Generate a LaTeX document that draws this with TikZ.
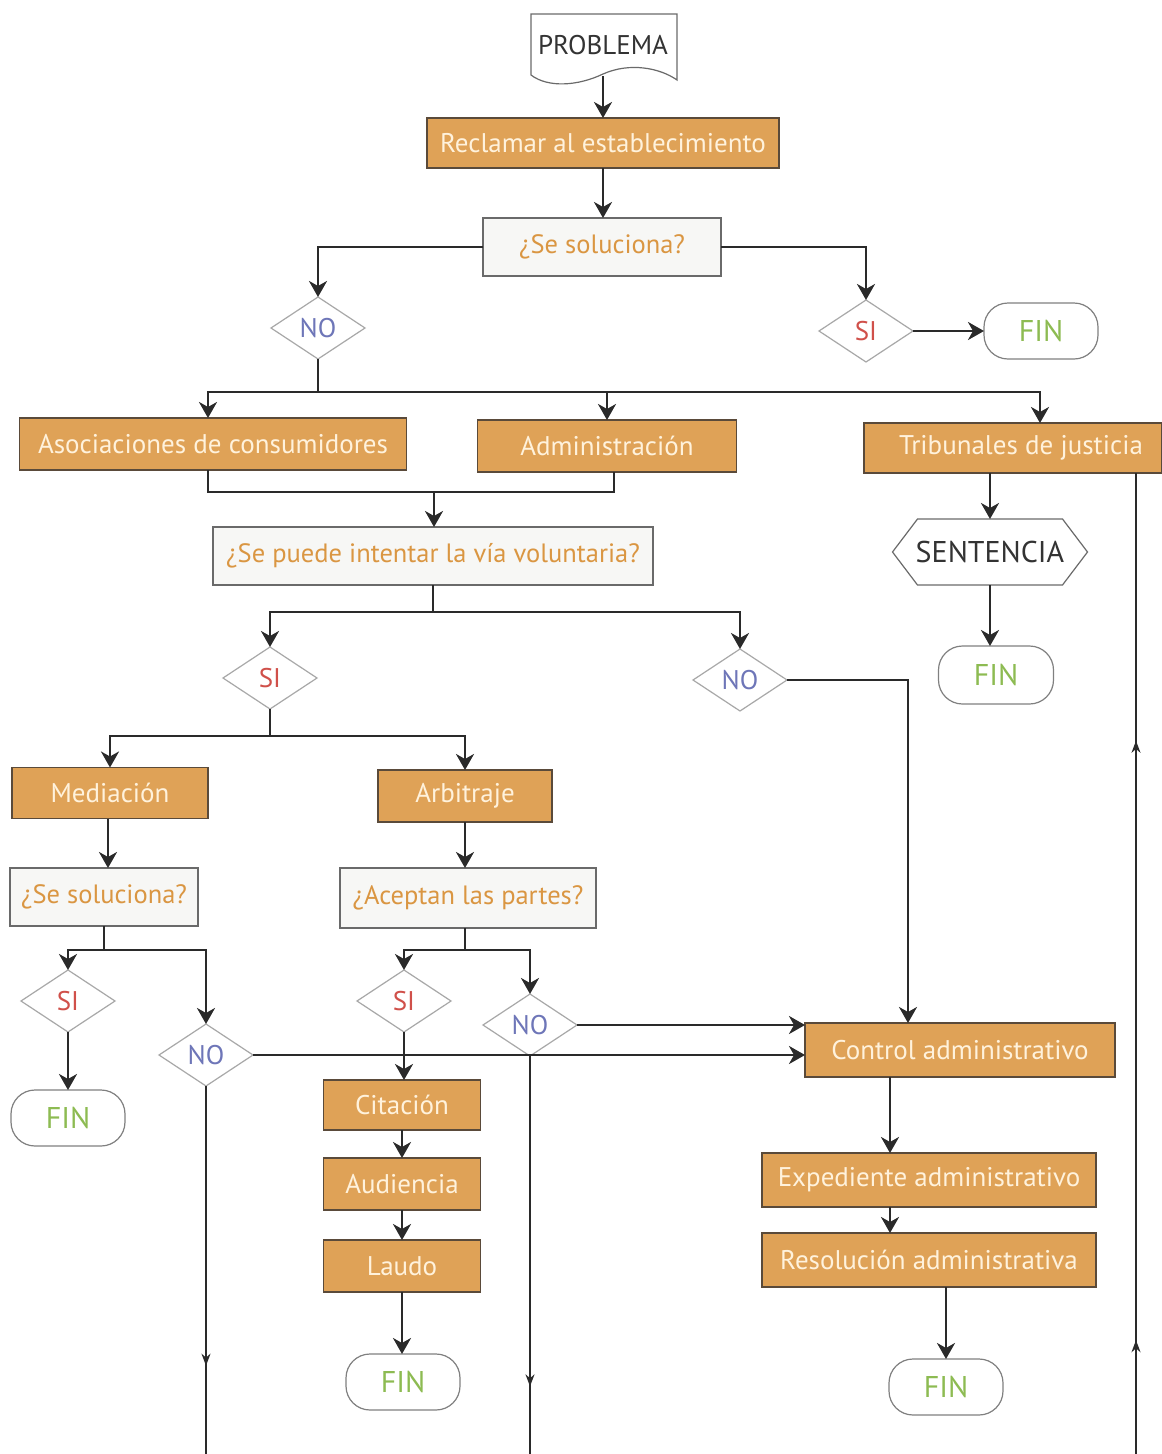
\documentclass[tikz,border=0pt]{standalone}
\usepackage{fontspec}
\setmainfont{PT Sans}
\usetikzlibrary{shapes.geometric,arrows.meta,decorations.markings,calc}
\definecolor{ofill}{HTML}{DFA257}
\definecolor{oborder}{HTML}{5A4A3A}
\definecolor{otext}{HTML}{FFF2DC}
\definecolor{qfill}{HTML}{F7F7F5}
\definecolor{qborder}{HTML}{6A6A6A}
\definecolor{qtext}{HTML}{DA9642}
\definecolor{dborder}{HTML}{A8A8A8}
\definecolor{sitext}{HTML}{D0504A}
\definecolor{notext}{HTML}{6E76B8}
\definecolor{fintext}{HTML}{8DBB52}
\definecolor{lcol}{HTML}{2A2A2A}
\begin{document}
\begin{tikzpicture}[x=1pt,y=-1pt,
 every node/.style={inner sep=0pt, outer sep=0pt},
 proc/.style={rectangle, draw=oborder, line width=1.5pt, fill=ofill, text=otext, font=\fontsize{27}{30}\selectfont},
 ques/.style={rectangle, draw=qborder, line width=1.3pt, fill=qfill, text=qtext, font=\fontsize{26.5}{30}\selectfont},
 dia/.style={diamond, draw=dborder, line width=1.2pt, fill=white, minimum width=94pt, minimum height=62pt, font=\fontsize{27}{30}\selectfont},
 sitxt/.style={text=sitext},
 notxt/.style={text=notext},
 fin/.style={rectangle, rounded corners=24pt, draw=gray, line width=1.2pt, fill=white, text=fintext, minimum width=114pt, minimum height=56pt, font=\fontsize{30}{32}\selectfont},
 arr/.style={line width=2.6pt, draw=lcol, -{Stealth[length=16pt,width=18pt,inset=5pt]}},
 ln/.style={line width=2.6pt, draw=lcol},
 thinln/.style={line width=1.6pt, draw=lcol},
 midarr/.style={postaction={decorate}, decoration={markings, mark=at position #1 with {\arrow{Stealth[length=12pt,width=9pt]}}}},
 twoarr/.style 2 args={postaction={decorate}, decoration={markings, mark=at position #1 with {\arrow{Stealth[length=12pt,width=9pt]}}, mark=at position #2 with {\arrow{Stealth[length=12pt,width=9pt]}}}}]
\useasboundingbox (0,0) rectangle (1162,1454);
\fill[white] (0,0) rectangle (1162,1454);
% PROBLEMA document shape
\draw[qborder, line width=1.2pt, fill=white] (531,14) -- (677,14) -- (677,80)
  .. controls (660,68) and (630,62) .. (603,74)
  .. controls (578,86) and (548,88) .. (531,75) -- cycle;
\node (prob) [minimum width=146pt, minimum height=62pt, font=\fontsize{27}{30}\selectfont, text=black!80] at (603,45) {PROBLEMA};
\node (recl) [proc, minimum width=352pt, minimum height=50pt] at (603,143) {Reclamar al establecimiento};
\node (q1) [ques, minimum width=238pt, minimum height=58pt] at (602,247) {¿Se soluciona?};
\node (no1) [dia, notxt] at (318,328) {NO};
\node (si1) [dia, sitxt] at (866,331) {SI};
\node (fin1) [fin] at (1041,331) {FIN};
\node (asoc) [proc, minimum width=387pt, minimum height=52pt] at (213,444) {Asociaciones de consumidores};
\node (admin) [proc, minimum width=259pt, minimum height=52pt] at (607,446) {Administración};
\node (trib) [proc, minimum width=298pt, minimum height=50pt] at (1013,448) {\hspace*{16pt}Tribunales de justicia};
\node (q2) [ques, minimum width=440pt, minimum height=58pt] at (433,556) {¿Se puede intentar la vía voluntaria?};
\node (si2) [dia, sitxt] at (270,678) {SI};
\node (no2) [dia, notxt] at (740,680) {NO};
\node (med) [proc, minimum width=196pt, minimum height=51pt] at (110,793) {Mediación};
\node (arb) [proc, minimum width=174pt, minimum height=52pt] at (465,796) {Arbitraje};
\node (q3) [ques, minimum width=188pt, minimum height=58pt] at (104,897) {¿Se soluciona?};
\node (q4) [ques, minimum width=256pt, minimum height=60pt] at (468,898) {¿Aceptan las partes?};
\node (si3) [dia, sitxt] at (68,1001) {SI};
\node (no3) [dia, notxt] at (206,1055) {NO};
\node (si4) [dia, sitxt] at (404,1001) {SI};
\node (no4) [dia, notxt] at (530,1025) {NO};
\node (fin3) [fin] at (68,1118) {FIN};
\node (cit) [proc, minimum width=157pt, minimum height=50pt] at (402,1105) {Citación};
\node (aud) [proc, minimum width=157pt, minimum height=52pt] at (402,1184) {Audiencia};
\node (lau) [proc, minimum width=157pt, minimum height=52pt] at (402,1266) {Laudo};
\node (fin4) [fin] at (403,1382) {FIN};
\node (ctrl) [proc, minimum width=310pt, minimum height=54pt] at (960,1050) {Control administrativo};
\node (exp) [proc, minimum width=334pt, minimum height=54pt] at (929,1180) {Expediente administrativo};
\node (res) [proc, minimum width=334pt, minimum height=54pt] at (929,1260) {Resolución administrativa};
\node (fin5) [fin] at (946,1387) {FIN};
\node (sent) [minimum width=195pt, minimum height=66pt, font=\fontsize{30}{32}\selectfont, text=black!80] at (990,552) {SENTENCIA};
\draw[qborder, line width=1.2pt] (sent.west) -- ($(sent.north west)+(25,0)$) -- ($(sent.north east)+(-25,0)$) -- (sent.east) -- ($(sent.south east)+(-25,0)$) -- ($(sent.south west)+(25,0)$) -- cycle;
\node (fin2) [fin, minimum width=115pt, minimum height=58pt] at (996,675) {FIN};
% connectors
\draw[arr] (prob.south) -- (prob.south |- recl.north);
\draw[arr] (recl.south) -- (recl.south |- q1.north);
\draw[arr] (q1.west) -| (no1.north);
\draw[arr] (q1.east) -| (si1.north);
\draw[arr] (si1.east) -- (fin1.west);
\coordinate (j1) at (318,392);
\draw[ln] (no1.south) -- (j1);
\draw[arr] (j1) -| ([xshift=-5pt]asoc.north);
\draw[arr] (j1) -| ([xshift=27pt]trib.north);
\draw[arr] (admin.north |- j1) -- (admin.north);
\coordinate (j2) at (434,492);
\draw[ln] ([xshift=-5pt]asoc.south) |- ([xshift=7pt]admin.south |- j2) -- ([xshift=7pt]admin.south);
\draw[arr] (j2) -- (j2 |- q2.north);
\coordinate (j3) at (433,612);
\draw[ln] (q2.south) -- (j3);
\draw[arr] (j3) -| (si2.north);
\draw[arr] (j3) -| (no2.north);
\draw[arr] (no2.east) -| ([xshift=-52pt]ctrl.north);
\coordinate (j4) at (270,736);
\draw[ln] (si2.south) -- (j4);
\draw[arr] (j4) -| (med.north);
\draw[arr] (j4) -| (arb.north);
\draw[arr] ([xshift=-2pt]med.south) -- ([xshift=-2pt]med.south |- q3.north);
\draw[arr] (arb.south) -- (arb.south |- q4.north);
\coordinate (j5) at (104,950);
\draw[ln] (q3.south) -- (j5);
\draw[arr] (j5) -| (si3.north);
\draw[arr] (j5) -| (no3.north);
\coordinate (j6) at (465,950);
\draw[ln] (q4.south -| j6) -- (j6);
\draw[arr] (j6) -| (si4.north);
\draw[arr] (j6) -| (no4.north);
\draw[arr] (si3.south) -- (si3.south |- fin3.north);
\draw[arr] (no3.east) -- (no3.east -| ctrl.west);
\draw[arr] (no4.east) -- (no4.east -| ctrl.west);
\draw[arr] (si4.south) -- (si4.south |- cit.north);
\draw[arr] (cit.south) -- (aud.north);
\draw[arr] (aud.south) -- (lau.north);
\draw[arr] (lau.south) -- (lau.south |- fin4.north);
\coordinate (b1) at (206,1454);
\coordinate (b2) at (530,1454);
\coordinate (b3) at (1136,1454);
\draw[thinln, midarr=0.76] (no3.south) -- (b1);
\draw[thinln, midarr=0.83] (no4.south) -- (b2);
\draw[thinln, twoarr={0.116}{0.727}] (b3) -- (trib.south -| b3);
\draw[arr] ([xshift=-70pt]ctrl.south) -- ([xshift=-70pt]ctrl.south |- exp.north);
\draw[arr] ([xshift=-39pt]exp.south) -- ([xshift=-39pt]exp.south |- res.north);
\draw[arr] ([xshift=17pt]res.south) -- (fin5.north);
\draw[arr] ([xshift=-23pt]trib.south) -- (sent.north);
\draw[arr] (sent.south) -- (sent.south |- fin2.north);
\end{tikzpicture}
\end{document}
